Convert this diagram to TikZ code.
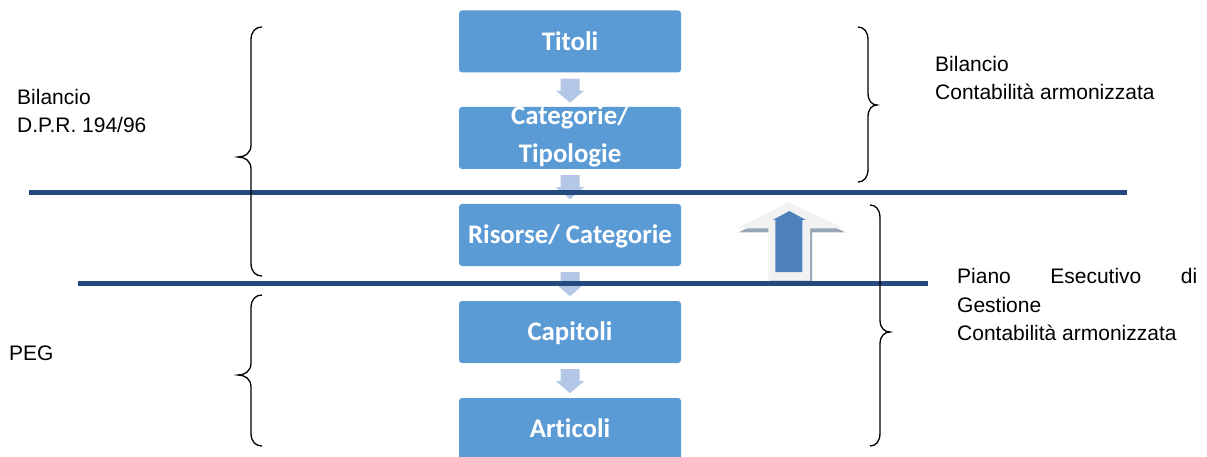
\documentclass[tikz,border=0pt]{standalone}
\usepackage{fontspec}
\setmainfont{Liberation Sans}
\newfontfamily\boxfont[Ligatures=CommonOff]{Carlito}
\usetikzlibrary{calc}

\definecolor{boxblue}{RGB}{91,155,213}
\definecolor{linkblue}{RGB}{180,199,231}
\definecolor{rulerblue}{RGB}{36,73,126}
\definecolor{bigblue}{RGB}{79,129,189}
\definecolor{bigshell}{RGB}{242,242,242}
\definecolor{bigshadow}{RGB}{151,166,183}

% curly brace: end x, spine x, tip x, top y, tip y, bottom y
\newcommand\curlybrace[6]{%
  \draw[bracestyle] (#1,#4)
    .. controls ({#2+0.45*(#1-#2)},#4) and (#2,{#4+4}) .. (#2,{#4+13})
    -- (#2,{#5-12})
    .. controls (#2,{#5-4}) and ({#2+0.45*(#3-#2)},#5) .. (#3,#5)
    .. controls ({#2+0.45*(#3-#2)},#5) and (#2,{#5+4}) .. (#2,{#5+12})
    -- (#2,{#6-13})
    .. controls (#2,{#6-4}) and ({#2+0.45*(#1-#2)},#6) .. (#1,#6);}

\tikzset{
  box/.style={fill=boxblue, rounded corners=3pt, minimum width=222pt,
    minimum height=62pt, inner sep=0pt, text=white,
    font=\boxfont\bfseries\fontsize{26.8}{26.8}\selectfont,
    text height=17.2pt, text depth=0pt},
  boxline/.style={text=white, inner sep=0pt, anchor=base,
    font=\boxfont\bfseries\fontsize{26.8}{26.8}\selectfont},
  label/.style={inner sep=0pt, anchor=base west,
    font=\fontsize{21}{21}\selectfont},
  ruler/.style={draw=rulerblue, line width=5pt},
  bracestyle/.style={draw=black, line width=1.3pt},
  downarr/.pic={\fill[linkblue] (-9.5,0) -- (9.5,0) -- (9.5,12) -- (14,12)
     -- (0,24) -- (-14,12) -- (-9.5,12) -- cycle;}
}

\begin{document}
\begin{tikzpicture}[x=1pt, y=-1pt]
\useasboundingbox (0,0) rectangle (1207,457);
\clip (0,0) rectangle (1207,457);

% the five levels
\node[box] (tit) at (570,41.5) {Titoli};
\node[box] (cat) at (570,138) {};
\node[boxline] (catA) at (570,125) {Categorie/};
\node[boxline] (catB) at (570,163) {Tipologie};
\node[box] (ris) at (570,235) {Risorse/ Categorie};
\node[box] (cap) at (570,332) {Capitoli};
\node[box] (art) at (570,429) {Articoli};

% links between the levels
\pic at ($(tit.south)+(0,6)$) {downarr};
\pic at ($(cat.south)+(0,6)$) {downarr};
\pic at ($(ris.south)+(0,6)$) {downarr};
\pic at ($(cap.south)+(0,6)$) {downarr};

% big upward arrow
\fill[bigshadow, shift={(2,4)}] (789,202.3) -- (843.3,228.3) -- (810,228.3)
  -- (810,280.7) -- (768.3,280.7) -- (768.3,228.3) -- (736.7,228.3) -- cycle;
\fill[bigshell] (789,202.3) -- (843.3,228.3) -- (810,228.3)
  -- (810,280.7) -- (768.3,280.7) -- (768.3,228.3) -- (736.7,228.3) -- cycle;
\fill[bigblue] (789.3,211) -- (806,220) -- (802.3,220) -- (802.3,272)
  -- (775.3,272) -- (775.3,220) -- (772.7,220) -- cycle;

% separating rules
\coordinate (r1a) at (29,192.5);
\coordinate (r1b) at (1127,192.5);
\coordinate (r2a) at (78,283.5);
\coordinate (r2b) at (928,283.5);
\draw[ruler] (r1a) -- (r1b);
\draw[ruler] (r2a) -- (r2b);

% braces
\curlybrace{262}{251}{238}{27}{157}{276}
\curlybrace{262}{251}{238}{295}{375}{446}
\curlybrace{858}{868}{877}{27}{105}{182}
\curlybrace{870}{880}{890}{205}{332}{446}

% side texts
\node[label] (l1) at (17,105) {Bilancio};
\node[label] (l2) at (17,133) {D.P.R. 194/96};
\node[label] (peg) at (9,360) {PEG};
\node[label] (r1) at (935,72) {Bilancio};
\node[label] (r2) at (935,100) {Contabilità armonizzata};
\node[label, text width=240pt] (p1) at (957,283) {Piano\hfill Esecutivo\hfill di};
\node[label] (p2) at (957,312) {Gestione};
\node[label] (p3) at (957,340) {Contabilità armonizzata};
\end{tikzpicture}
\end{document}
